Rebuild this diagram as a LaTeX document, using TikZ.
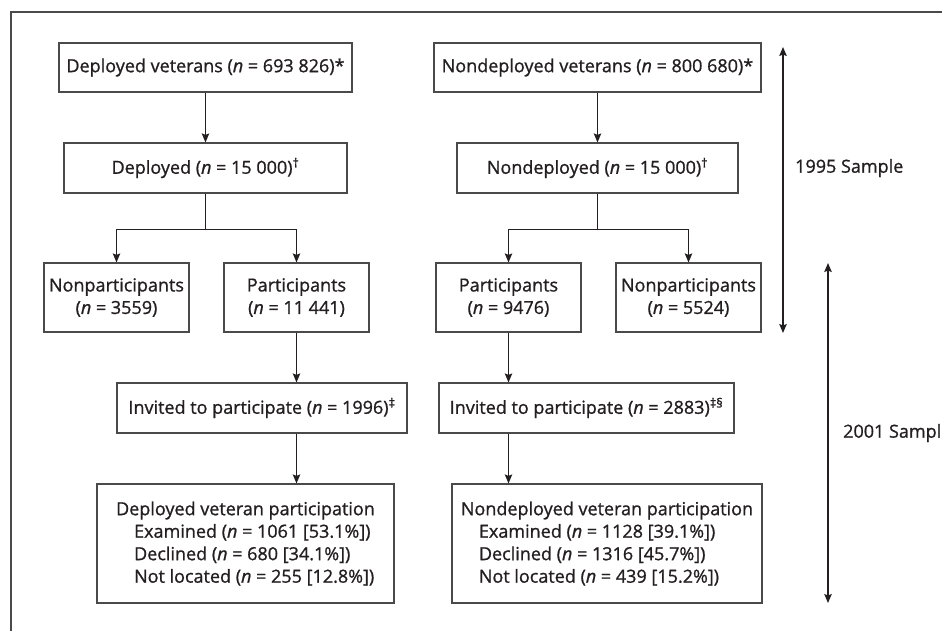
\documentclass[tikz,border=0pt]{standalone}
\usepackage{fontspec}
\setmainfont{Open Sans}[UprightFeatures={FakeBold=1},ItalicFeatures={FakeBold=1}]
\usetikzlibrary{arrows.meta}
\definecolor{ink}{HTML}{231F20}
\definecolor{rule}{HTML}{4A4A4A}
\begin{document}
\begin{tikzpicture}[x=1pt,y=-1pt,
  box/.style={draw=rule,line width=1.2pt,inner sep=0pt,align=center,text=ink,font=\fontsize{18}{22.5}\selectfont},
  lbl/.style={text=ink,anchor=west,inner sep=0pt,font=\fontsize{18}{20}\selectfont},
  arr/.style={draw=ink,line width=1.2pt,-{Stealth[length=9pt,width=7.5pt,inset=1.5pt]}},
  span/.style={draw=ink,line width=1.2pt,{Stealth[length=9pt,width=7.5pt,inset=1.5pt]}-{Stealth[length=9pt,width=7.5pt,inset=1.5pt]}}]
\useasboundingbox (0,0) rectangle (942,630);
% frame
\draw[rule,line width=1.2pt] (11,640)--(11,12)--(950,12);
% 1995 sample
\node[box,minimum width=293,minimum height=49] (vetD) at (205.5,67.5) {Deployed veterans (\textit{n} = 693 826)*};
\node[box,minimum width=327,minimum height=49] (vetN) at (597.5,67.5) {Nondeployed veterans (\textit{n} = 800 680)*};
\node[box,minimum width=283,minimum height=50] (depD) at (205.5,168) {Deployed (\textit{n} = 15 000)\textsuperscript{†}};
\node[box,minimum width=281,minimum height=50] (depN) at (597.5,168) {Nondeployed (\textit{n} = 15 000)\textsuperscript{†}};
\node[box,minimum width=145,minimum height=69] (nonD) at (116.5,297.5) {Nonparticipants\\(\textit{n} = 3559)};
\node[box,minimum width=145,minimum height=69] (parD) at (296.5,297.5) {Participants\\(\textit{n} = 11 441)};
\node[box,minimum width=145,minimum height=69] (parN) at (508.5,297.5) {Participants\\(\textit{n} = 9476)};
\node[box,minimum width=145,minimum height=69] (nonN) at (688.5,297.5) {Nonparticipants\\(\textit{n} = 5524)};
% 2001 sample
\node[box,minimum width=290,minimum height=50] (invD) at (262,408) {Invited to participate (\textit{n} = 1996)\textsuperscript{‡}};
\node[box,minimum width=295,minimum height=50] (invN) at (586.5,408) {Invited to participate (\textit{n} = 2883)\textsuperscript{‡§}};
\node[box,align=left,minimum width=297,minimum height=119] (resD) at (245.5,543.5) {Deployed veteran participation\\
  \hspace*{18pt}Examined (\textit{n} = 1061 [53.1\%])\\
  \hspace*{18pt}Declined (\textit{n} = 680 [34.1\%])\\
  \hspace*{18pt}Not located (\textit{n} = 255 [12.8\%])};
\node[box,align=left,minimum width=310,minimum height=119] (resN) at (607,543.5) {Nondeployed veteran participation\\
  \hspace*{18pt}Examined (\textit{n} = 1128 [39.1\%])\\
  \hspace*{18pt}Declined (\textit{n} = 1316 [45.7\%])\\
  \hspace*{18pt}Not located (\textit{n} = 439 [15.2\%])};
% connectors
\draw[arr] (vetD) -- (depD);
\draw[arr] (vetN) -- (depN);
\draw[arr] (depD.south) -- ++(0,36) -| (nonD.north);
\draw[arr] (depD.south) -- ++(0,36) -| (parD.north);
\draw[arr] (depN.south) -- ++(0,36) -| (parN.north);
\draw[arr] (depN.south) -- ++(0,36) -| (nonN.north);
\draw[arr] (parD.south) -- (parD.south |- invD.north);
\draw[arr] (parD.south |- invD.south) -- (parD.south |- resD.north);
\draw[arr] (parN.south) -- (parN.south |- invN.north);
\draw[arr] (parN.south |- invN.south) -- (parN.south |- resN.north);
% sample spans
\coordinate (a95) at (783,47);
\coordinate (b95) at (783,333);
\coordinate (a01) at (828,263);
\coordinate (b01) at (828,603);
\draw[span] (a95) -- (b95);
\draw[span] (a01) -- (b01);
\node[lbl] (l95) at (795,168) {1995 Sample};
\node[lbl] (l01) at (843,433) {2001 Sample};
\end{tikzpicture}
\end{document}
